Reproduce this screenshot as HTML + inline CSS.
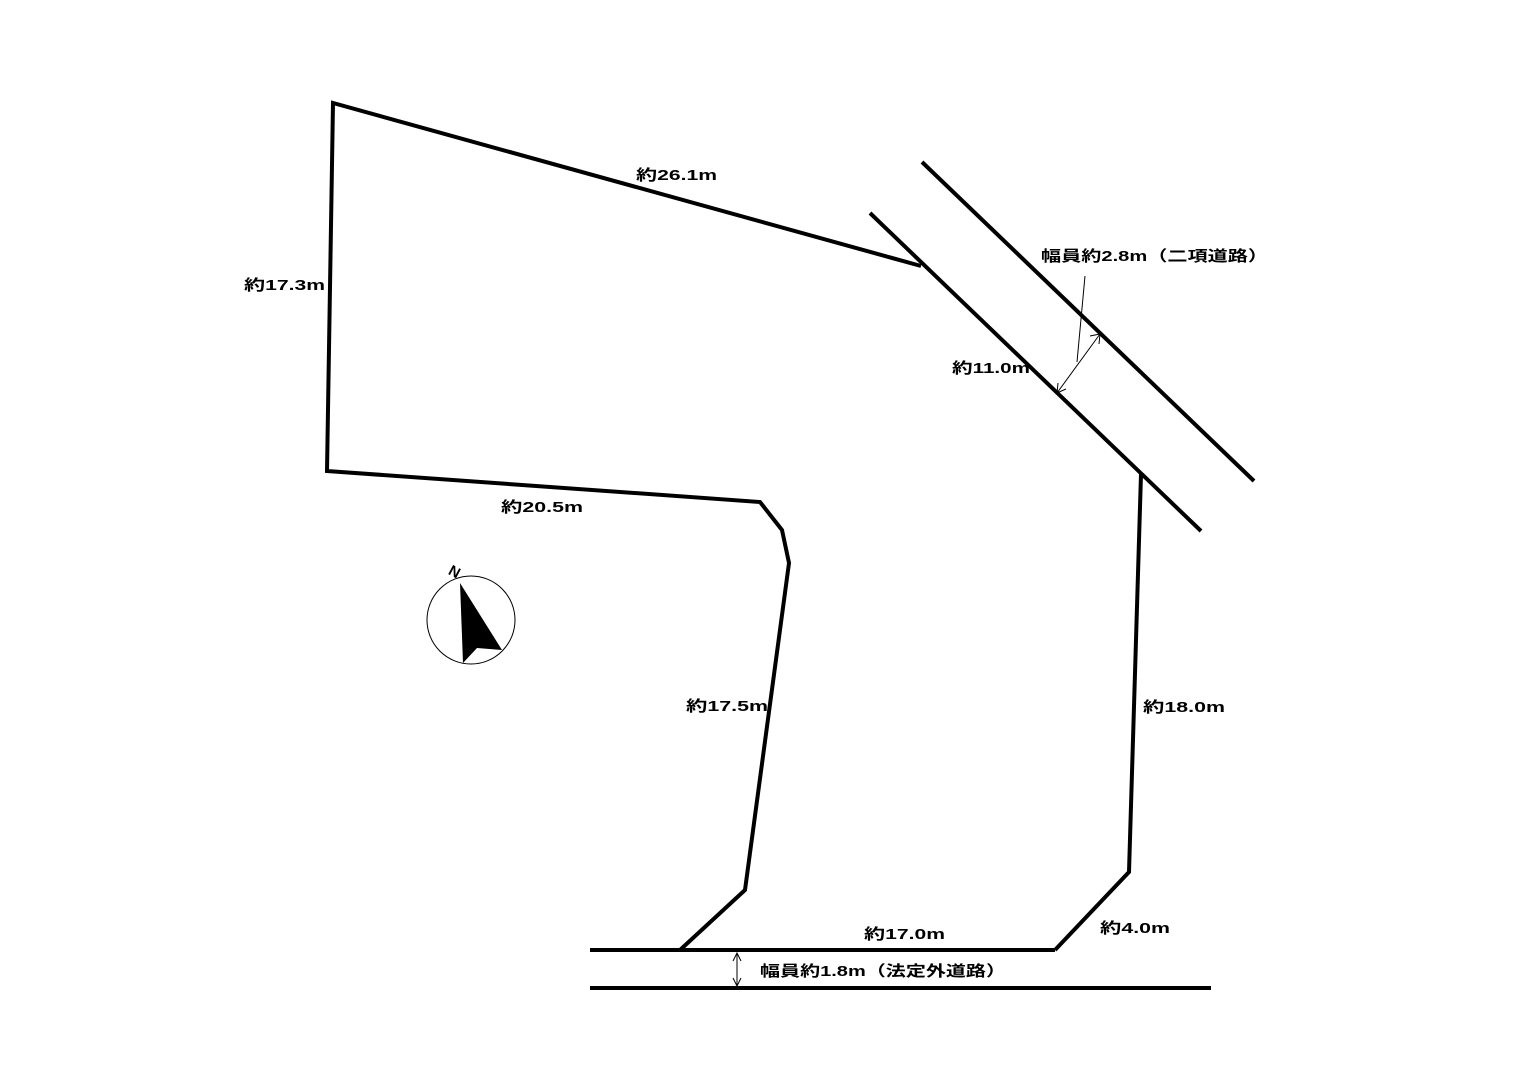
<!DOCTYPE html>
<html><head><meta charset="utf-8"><style>
html,body{margin:0;padding:0;background:#fff;}
svg{display:block}
text{font-family:"Liberation Sans","Noto Sans CJK JP",sans-serif;font-weight:bold;font-size:15px;fill:#000}
</style></head><body>
<svg width="1529" height="1080" viewBox="0 0 1529 1080" xmlns="http://www.w3.org/2000/svg">
<g fill="none" stroke="#000" stroke-width="4" stroke-linejoin="miter">
<polyline points="921,266 333,103 327,471 760,502 782,530 789,563 745,890 680,950"/>
<line x1="590" y1="950" x2="1055" y2="950"/>
<polyline points="1055,950 1129,872 1141,474"/>
<line x1="870" y1="213" x2="1201" y2="531"/>
<line x1="922" y1="162" x2="1254" y2="481"/>
<line x1="590" y1="988" x2="1211" y2="988"/>
</g>
<g fill="none" stroke="#000" stroke-width="1">
<line x1="1085" y1="276" x2="1077" y2="362"/>
<line x1="1057" y1="393" x2="1100" y2="334"/>
<polyline points="1058,383 1057,393 1066,389"/>
<polyline points="1090,336 1100,334 1099,344"/>
<line x1="737" y1="953" x2="737" y2="986"/>
<polyline points="733,961 737,953 741,961"/>
<polyline points="733,978 737,986 741,978"/>
<circle cx="471" cy="620" r="44"/>
</g>
<polygon points="460,583 502,650 477,648 463,663" fill="#000"/>
<text x="449" y="577" font-size="13" transform="rotate(28 455 572)">N</text>
<text x="636" y="180" textLength="81" lengthAdjust="spacingAndGlyphs">約26.1m</text>
<text x="244" y="290" textLength="81" lengthAdjust="spacingAndGlyphs">約17.3m</text>
<text x="952" y="373" textLength="78" lengthAdjust="spacingAndGlyphs">約11.0m</text>
<text x="1041" y="261" textLength="227" lengthAdjust="spacingAndGlyphs">幅員約2.8m（二項道路）</text>
<text x="501" y="512" textLength="82" lengthAdjust="spacingAndGlyphs">約20.5m</text>
<text x="686" y="711" textLength="82" lengthAdjust="spacingAndGlyphs">約17.5m</text>
<text x="1143" y="712" textLength="82" lengthAdjust="spacingAndGlyphs">約18.0m</text>
<text x="864" y="939" textLength="81" lengthAdjust="spacingAndGlyphs">約17.0m</text>
<text x="1100" y="933" textLength="70" lengthAdjust="spacingAndGlyphs">約4.0m</text>
<text x="760" y="976" textLength="246" lengthAdjust="spacingAndGlyphs">幅員約1.8m（法定外道路）</text>
</svg>
</body></html>
